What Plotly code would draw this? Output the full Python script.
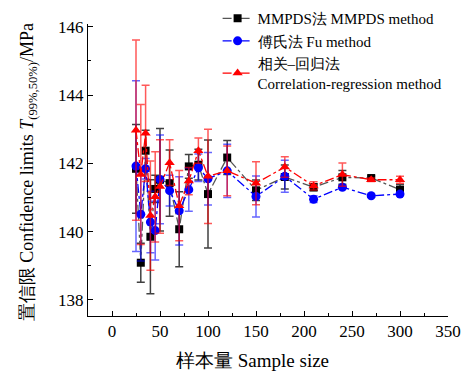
import plotly.graph_objects as go

sample_size = [25, 30, 35, 40, 45, 50, 60, 70, 80, 90, 100, 120, 150, 180, 210, 240, 270, 300]

mmpds_vals = [141.84, 139.09, 142.37, 139.85, 141.25, 141.52, 141.42, 140.07, 141.91, 141.96, 141.10, 142.17, 141.21, 141.60, 141.30, 141.59, 141.57, 141.23]
mmpds_err = [1.30, 0.57, 0.60, 1.67, 0.40, 1.50, 0.97, 1.10, 0.35, 0.45, 1.58, 0.50, 0.30, 0.35, 0.10, 0.20, 0.06, 0.15]

fu_vals = [141.92, 140.51, 141.84, 140.28, 140.03, 141.53, 141.20, 140.61, 141.23, 141.87, 141.55, 141.78, 141.03, 141.62, 140.95, 141.30, 141.05, 141.10]
fu_err = [2.50, 1.37, 0.30, 0.90, 0.86, 1.30, 0.45, 1.00, 0.63, 0.40, 0.77, 0.78, 0.60, 0.47, 0.10, 0.05, 0.04, 0.05]

cr_vals = [142.97, 141.67, 142.88, 140.47, 141.02, 141.32, 142.02, 140.76, 141.48, 142.37, 141.62, 141.78, 141.42, 141.89, 141.34, 141.67, 141.52, 141.52]
cr_err = [2.64, 2.05, 1.41, 1.60, 1.32, 1.37, 0.67, 1.03, 0.40, 0.37, 1.38, 0.73, 0.63, 0.30, 0.12, 0.34, 0.05, 0.10]

names = ["MMPDS法 MMPDS method", "傅氏法 Fu method", "相关–回归法<br>Correlation-regression method"]
x_tick_vals = [0, 50, 100, 150, 200, 250, 300, 350]
y_tick_vals = [138, 140, 142, 144, 146]
x_title = "样本量 Sample size"
y_title = "置信限 Confidence limits <i>T</i><sub>(99%,50%)</sub>/MPa"

FONT = "Times New Roman, Liberation Serif, DejaVu Serif, serif"

fig = go.Figure()

series = [
    (mmpds_vals, mmpds_err, names[0], "#555555", "black", "rgba(0,0,0,0.75)", "square", 8),
    (fu_vals, fu_err, names[1], "blue", "blue", "rgba(0,0,255,0.6)", "circle", 9),
    (cr_vals, cr_err, names[2], "red", "red", "rgba(255,0,0,0.65)", "triangle-up", 9),
]

for vals, errs, name, lc, mc, ec, sym, ms in series:
    fig.add_trace(go.Scatter(
        x=sample_size, y=vals, name=name, mode="lines+markers",
        line=dict(color=lc, width=1.3, dash="dashdot"),
        marker=dict(color=mc, symbol=sym, size=ms, line=dict(width=0)),
        error_y=dict(type="data", array=errs, visible=True, color=ec, thickness=1.5, width=4),
    ))

fig.update_layout(
    template="none",
    width=467, height=371,
    margin=dict(l=88, r=19, t=24, b=55, autoexpand=False),
    plot_bgcolor="white", paper_bgcolor="white",
    font=dict(family=FONT, size=15, color="black"),
    showlegend=True,
    legend=dict(x=0.36, y=1.075, xanchor="left", yanchor="top",
                bgcolor="rgba(0,0,0,0)", font=dict(family=FONT, size=15, color="black"),
                tracegroupgap=0, itemwidth=30),
    xaxis=dict(
        range=[-25, 350], tickmode="array", tickvals=x_tick_vals,
        ticks="inside", ticklen=5, tickcolor="black", showline=True, linecolor="black", linewidth=1,
        showgrid=False, zeroline=False, mirror=False, automargin=False,
        minor=dict(tickvals=[25, 75, 125, 175, 225, 275, 325], ticks="inside", ticklen=3, tickcolor="black"),
        tickfont=dict(family=FONT, size=17, color="black"),
    ),
    yaxis=dict(
        range=[137.53, 146.08], tickmode="array", tickvals=y_tick_vals,
        ticks="inside", ticklen=5, tickcolor="black", showline=True, linecolor="black", linewidth=1,
        showgrid=False, zeroline=False, mirror=False, automargin=False,
        minor=dict(tickvals=[139, 141, 143, 145], ticks="inside", ticklen=3, tickcolor="black"),
        tickfont=dict(family=FONT, size=17, color="black"),
    ),
    annotations=[
        dict(text=x_title, xref="paper", yref="paper", x=0.458, y=-0.151,
             xanchor="center", yanchor="middle", showarrow=False,
             font=dict(family=FONT, size=19, color="black")),
        dict(text=y_title, xref="paper", yref="paper", x=-0.166, y=0.493,
             xanchor="center", yanchor="middle", showarrow=False, textangle=-90,
             font=dict(family=FONT, size=18, color="black")),
    ],
)

fig.write_html("out.html", config={"displayModeBar": False},
               post_script="document.body.style.margin='0';")
